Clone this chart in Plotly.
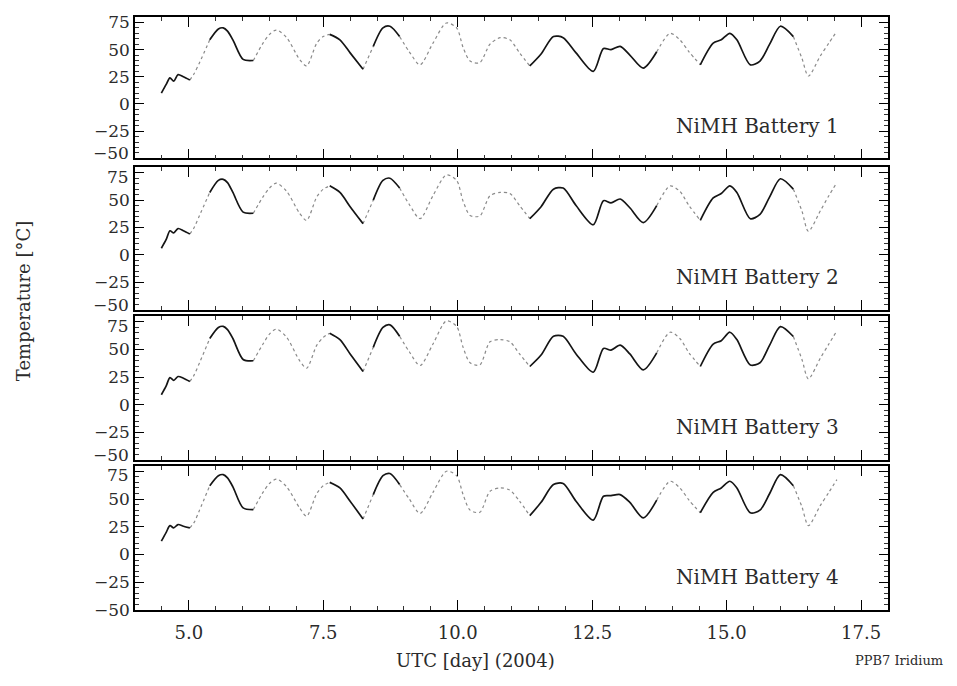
import plotly.graph_objects as go
from plotly.subplots import make_subplots

# Time of day-of-year (UTC, 2004)
days = [4.49, 4.58, 4.65, 4.72, 4.80, 4.90, 5.02, 5.10, 5.20, 5.39,
        5.55, 5.64, 5.72, 5.82, 6.01, 6.20, 6.38, 6.50, 6.63, 6.82,
        7.06, 7.19, 7.38, 7.50, 7.62, 7.81, 8.00, 8.24, 8.43, 8.61,
        8.74, 8.92, 9.10, 9.30, 9.54, 9.79, 9.98, 10.10, 10.23, 10.41,
        10.60, 10.79, 10.97, 11.15, 11.34, 11.55, 11.78, 11.96, 12.20, 12.52,
        12.71, 12.85, 13.02, 13.20, 13.45, 13.70, 13.95, 14.13, 14.30, 14.51,
        14.75, 14.90, 15.06, 15.19, 15.44, 15.62, 15.80, 16.00, 16.24, 16.40,
        16.52, 16.74, 16.90, 17.05]

# Battery temperatures [deg C]
battery_1 = [10, 18, 24, 21, 27, 25, 22, 28, 38, 59,
             69, 70, 67, 59, 41, 40, 56, 64, 68, 61,
             41, 35, 56, 62, 64, 59, 47, 32, 53, 70,
             71.5, 62, 48, 36, 56, 74.5, 70, 52, 39.5, 38,
             55, 61, 59, 47, 35, 46, 62, 61, 47, 30,
             51, 50, 53, 45, 33, 48, 65, 59, 48, 36,
             56, 59, 65, 59, 36, 39.5, 55, 71.5, 62, 42,
             25.7, 44, 56, 67]

battery_2 = [6, 14, 22, 20, 24, 22, 19, 25, 36, 57,
             68, 69, 66, 57, 39, 38, 53, 61, 65.5, 58,
             38, 31.5, 53, 60, 63, 57, 44, 28.5, 50, 68,
             70, 61, 46, 33, 54, 73, 68, 49, 36, 35.5,
             54, 57, 56, 45, 33, 44, 60, 61, 45, 27.5,
             49.5, 47.5, 51, 43, 29.5, 45, 63, 58, 45, 31.5,
             52, 56, 63, 57, 33, 37, 53, 69.5, 60, 40,
             21.5, 40, 54, 66]

battery_3 = [9, 17, 24.5, 22, 25.5, 24, 21, 27, 38, 60,
             70, 71, 68, 60, 41, 39.8, 55, 64, 68.5, 61,
             40, 33, 54, 61, 64.8, 59, 46, 30, 52, 70,
             72.4, 62, 48, 35.5, 55, 76, 71, 52, 38, 36,
             57, 59, 57, 46, 34.6, 45, 62, 62, 46, 29.4,
             51, 49.5, 54, 46, 31.6, 47, 65.7, 60, 47, 34.6,
             55, 58, 65.7, 59, 36, 38, 54, 70.8, 61.8, 41,
             23.4, 42, 55, 67]

battery_4 = [12, 20, 26, 24, 27, 25.5, 24, 29, 40, 62,
             71, 72, 69, 61, 42, 40.5, 56, 64, 68, 61,
             42, 34.5, 55, 62, 65, 60, 48, 32, 54, 71,
             73, 63, 50, 37, 56, 75, 71, 54, 40, 38,
             57, 60, 58, 48, 35, 47, 63, 64, 48, 31,
             52.5, 53, 54, 47, 33, 49, 66, 60, 49, 37.6,
             56, 60, 66, 60, 37.6, 40, 55, 72, 62, 43,
             26, 44, 56, 67.5]

series = [battery_1, battery_2, battery_3, battery_4]
labels = ["NiMH Battery 1", "NiMH Battery 2", "NiMH Battery 3", "NiMH Battery 4"]

y_ticks = [-50, -25, 0, 25, 50, 75]
y_tick_text = ["−50", "−25", "0", "25", "50", "75"]

# Stretches of the record printed in solid ink; the rest is faint/dotted
solid_spans = [(4.4, 5.05), (5.35, 6.25), (7.7, 8.3), (8.5, 9.0),
               (11.4, 13.6), (14.6, 16.3)]

FONT = "DejaVu Serif"
INK = "#2b2b2b"
TICK_SIZE = 17


def split_runs(x, y):
    """Split the curve into solid and faint runs (with None gaps)."""
    sx, sy, fx, fy = [], [], [], []
    for i in range(len(x) - 1):
        mid = 0.5 * (x[i] + x[i + 1])
        solid = any(a <= mid < b for a, b in solid_spans)
        tx, ty = (sx, sy) if solid else (fx, fy)
        if tx and tx[-1] == x[i]:
            tx.append(x[i + 1]); ty.append(y[i + 1])
        else:
            if tx:
                tx.append(None); ty.append(None)
            tx.extend([x[i], x[i + 1]]); ty.extend([y[i], y[i + 1]])
    return sx, sy, fx, fy


fig = make_subplots(rows=4, cols=1, shared_xaxes=True)

# panel extents (paper coordinates, bottom-up)
domains = [(0.7617, 1.0), (0.5067, 0.7466), (0.2534, 0.495), (0.0, 0.2433)]

for k, vals in enumerate(series, start=1):
    sx, sy, fx, fy = split_runs(days, vals)
    fig.add_trace(go.Scatter(x=fx, y=fy, mode="lines",
                             line=dict(color="#8a8a8a", width=1.2, dash="dot",
                                       shape="spline", smoothing=0.8),
                             connectgaps=False, showlegend=False), row=k, col=1)
    fig.add_trace(go.Scatter(x=sx, y=sy, mode="lines",
                             line=dict(color="#151515", width=1.7,
                                       shape="spline", smoothing=0.8),
                             connectgaps=False, showlegend=False), row=k, col=1)
    yref = "y" if k == 1 else f"y{k}"
    xref = "x" if k == 1 else f"x{k}"
    fig.add_annotation(x=17.12, y=-20, xref=xref, yref=yref, text=labels[k - 1],
                       showarrow=False, xanchor="right", yanchor="middle",
                       font=dict(family=FONT, size=20, color=INK))

    # end labels of stacked panels are nudged a little apart
    text = list(y_tick_text)
    if k > 1:
        text[-1] = ""
        fig.add_annotation(x=0, xref="paper", xanchor="right", xshift=-5,
                           y=y_ticks[-1], yref=yref, yanchor="middle",
                           yshift=-4, text=y_tick_text[-1], showarrow=False,
                           borderpad=0,
                           font=dict(family=FONT, size=TICK_SIZE, color=INK))
    if k < 4:
        text[0] = ""
        fig.add_annotation(x=0, xref="paper", xanchor="right", xshift=-5,
                           y=y_ticks[0], yref=yref, yanchor="middle",
                           yshift=5, text=y_tick_text[0], showarrow=False,
                           borderpad=0,
                           font=dict(family=FONT, size=TICK_SIZE, color=INK))

    fig.update_yaxes(range=[-50, 80], tickvals=y_ticks, ticktext=text,
                     ticks="inside", ticklen=9, tickwidth=1, tickcolor="black",
                     minor=dict(dtick=5, ticks="inside", ticklen=4,
                                tickcolor="#333", tickwidth=1),
                     showline=True, linecolor="black", linewidth=1.6,
                     mirror="ticks", showgrid=False, zeroline=False,
                     tickfont=dict(family=FONT, size=TICK_SIZE, color=INK),
                     domain=domains[k - 1], row=k, col=1)
    fig.update_xaxes(range=[4, 18], tick0=0, dtick=2.5, tickformat=".1f",
                     ticks="inside", ticklen=10, tickwidth=1, tickcolor="black",
                     minor=dict(dtick=0.5, ticks="inside", ticklen=4,
                                tickcolor="#333", tickwidth=1),
                     showline=True, linecolor="black", linewidth=1.6,
                     mirror="ticks", showgrid=False, zeroline=False,
                     showticklabels=(k == 4), ticklabelstandoff=6,
                     tickfont=dict(family=FONT, size=18, color=INK),
                     row=k, col=1)

fig.add_annotation(x=-0.148, y=0.52, xref="paper", yref="paper",
                   text="Temperature [°C]", textangle=-90, showarrow=False,
                   xanchor="center", yanchor="middle",
                   font=dict(family=FONT, size=18, color=INK))
fig.add_annotation(x=0.452, y=-0.086, xref="paper", yref="paper",
                   text="UTC [day] (2004)", showarrow=False,
                   xanchor="center", yanchor="middle",
                   font=dict(family=FONT, size=18, color=INK))
fig.add_annotation(x=1.015, y=-0.086, xref="paper", yref="paper",
                   text="PPB7 Iridium", showarrow=False,
                   xanchor="center", yanchor="middle",
                   font=dict(family=FONT, size=13, color=INK))

fig.update_layout(width=957, height=686,
                  margin=dict(l=135, r=69, t=14, b=76),
                  paper_bgcolor="white", plot_bgcolor="white",
                  font=dict(family=FONT, color=INK))

fig.write_html("out.html")
